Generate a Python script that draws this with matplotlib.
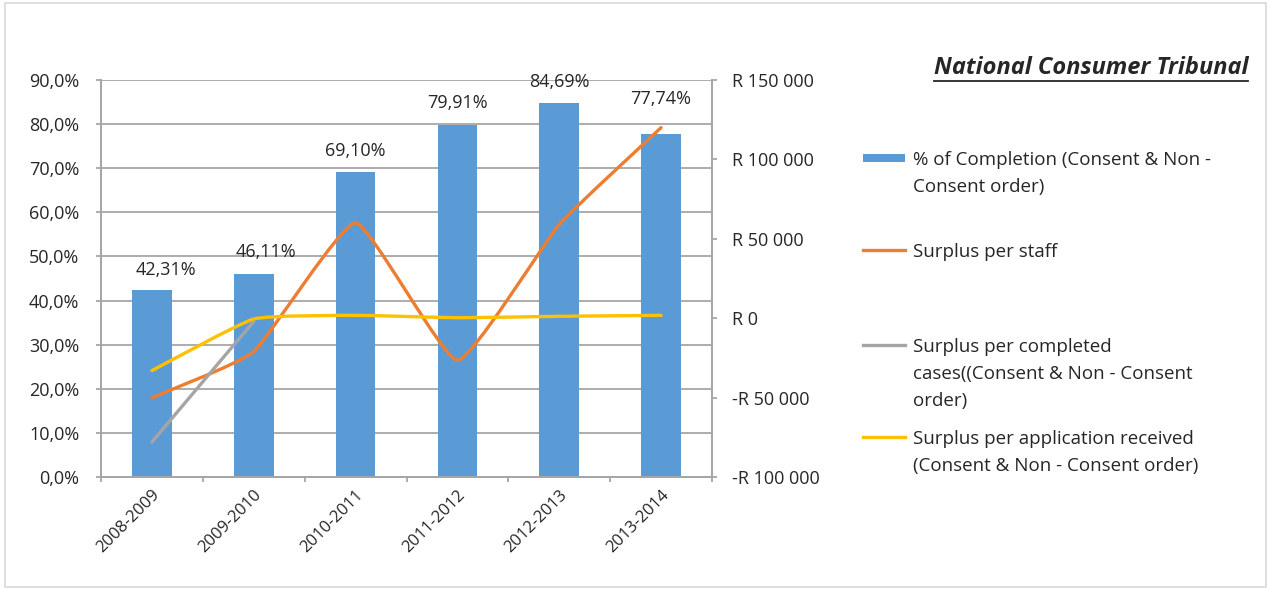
import numpy as np
import matplotlib
matplotlib.use("Agg")
import matplotlib.pyplot as plt
from matplotlib.path import Path
from matplotlib.patches import PathPatch, Rectangle
from matplotlib.lines import Line2D
from matplotlib.ticker import FuncFormatter, MultipleLocator

plt.rcParams['font.family'] = ['Open Sans', 'DejaVu Sans']

categories = ["2008-2009", "2009-2010", "2010-2011", "2011-2012", "2012-2013", "2013-2014"]
completion_pct = [42.31, 46.11, 69.10, 79.91, 84.69, 77.74]
surplus_per_staff = [-50000, -21000, 60000, -26500, 59000, 120000]
surplus_per_completed = [-78000, -2000, np.nan, np.nan, np.nan, np.nan]
surplus_per_application = [-33000, -500, 1800, 300, 1200, 1800]

series_labels = [
    "% of Completion (Consent & Non -\nConsent order)",
    "Surplus per staff",
    "Surplus per completed\ncases((Consent & Non - Consent\norder)",
    "Surplus per application received\n(Consent & Non - Consent order)",
]
title = "National Consumer Tribunal"

BLUE = "#5B9BD5"
ORANGE = "#ED7D31"
GRAY = "#A5A5A5"
YELLOW = "#FFC000"
GRID = "#A6A6A6"
TXT = "#262626"

W, H = 1271, 590
fig = plt.figure(figsize=(W / 100, H / 100), dpi=100)

def fx(px):
    return px / W

def fy(py):
    return 1 - py / H

ax = fig.add_axes([fx(101), fy(477), fx(712) - fx(101), fy(80) - fy(477)])
ax2 = ax.twinx()

x = np.arange(len(categories))
ax.bar(x, [v / 100 for v in completion_pct], width=0.39, color=BLUE, zorder=2)
ax.set_xlim(-0.5, len(categories) - 0.5)
ax.set_ylim(0, 0.9)
ax.yaxis.set_major_locator(MultipleLocator(0.1))
ax.yaxis.set_major_formatter(FuncFormatter(lambda v, p: f"{v*100:.1f}%".replace(".", ",")))
ax.set_axisbelow(True)
ax.grid(axis="y", color=GRID, linewidth=1.3)
ax.set_xticks(np.arange(-0.5, len(categories)), minor=False)
ax.set_xticklabels([])
ax.set_xticks(x, minor=True)
ax.set_xticklabels(categories, minor=True, rotation=45, ha="right", rotation_mode="anchor",
                   fontsize=12, color=TXT)
ax.tick_params(axis="x", which="minor", length=0, pad=7)
ax.tick_params(axis="x", which="major", length=3.6, color=GRID, width=1.3)
ax.tick_params(axis="y", length=3.6, color=GRID, width=1.3, labelsize=13, labelcolor=TXT, pad=12)

ax.spines["top"].set_visible(False)
ax2.spines["top"].set_visible(False)
for s in ["left", "bottom", "right"]:
    ax.spines[s].set_color(GRID)
    ax.spines[s].set_linewidth(1.3)
    ax2.spines[s].set_color(GRID)
    ax2.spines[s].set_linewidth(1.3)

label_offsets = [(10, 8), (9, 9), (0, 9), (0, 9), (0, 9), (0, 19)]
for xi, v, off in zip(x, completion_pct, label_offsets):
    ax.annotate(f"{v:.2f}%".replace(".", ","), (xi, v / 100), xytext=off,
                textcoords="offset points", ha="center", va="bottom", fontsize=13, color=TXT)

ax2.set_ylim(-100000, 150000)
ax2.yaxis.set_major_locator(MultipleLocator(50000))

def rfmt(v, p):
    s = f"{abs(int(round(v))):,}".replace(",", " ")
    return ("-R " if v < 0 else "R ") + s

ax2.yaxis.set_major_formatter(FuncFormatter(rfmt))
ax2.tick_params(axis="y", length=3.6, color=GRID, width=1.3, labelsize=13, labelcolor=TXT, pad=11)


def smooth_path(xs, ys, k=0.07):
    pts = [(a, b) for a, b in zip(xs, ys) if not np.isnan(b)]
    pts = np.array(pts, dtype=float)
    verts = [tuple(pts[0])]
    codes = [Path.MOVETO]
    n = len(pts)
    for i in range(n - 1):
        p0 = pts[i - 1] if i > 0 else pts[i]
        p1 = pts[i]
        p2 = pts[i + 1]
        p3 = pts[i + 2] if i + 2 < n else pts[i + 1]
        c1 = p1 + (p2 - p0) * k
        c2 = p2 - (p3 - p1) * k
        verts += [tuple(c1), tuple(c2), tuple(p2)]
        codes += [Path.CURVE4] * 3
    return Path(verts, codes)


for ys, col in [(surplus_per_staff, ORANGE), (surplus_per_completed, GRAY), (surplus_per_application, YELLOW)]:
    patch = PathPatch(smooth_path(x, ys), facecolor="none", edgecolor=col, linewidth=2.4,
                      capstyle="round", joinstyle="round", zorder=3)
    ax2.add_patch(patch)

# Legend (manual layout)
leg_x0, leg_x1, txt_x = 863, 905, 913
leg_rows = [158, 250, 345, 437]
line_step = 26.8
handles = ["bar", ORANGE, GRAY, YELLOW]
for lab, yy, h in zip(series_labels, leg_rows, handles):
    if h == "bar":
        fig.patches.append(Rectangle((fx(leg_x0), fy(yy + 4)), fx(leg_x1) - fx(leg_x0), fy(yy - 4) - fy(yy + 4),
                                     transform=fig.transFigure, facecolor=BLUE, edgecolor="none"))
    else:
        fig.add_artist(Line2D([fx(leg_x0), fx(leg_x1)], [fy(yy), fy(yy)], color=h, linewidth=2.4,
                              transform=fig.transFigure))
    for i, line in enumerate(lab.split("\n")):
        fig.text(fx(txt_x), fy(yy + i * line_step), line, ha="left", va="center_baseline",
                 fontsize=13.5, color=TXT)

# Title with underline
t = fig.text(fx(1248), fy(68), title, ha="right", va="center", fontsize=17,
             fontweight="bold", fontstyle="italic", color=TXT)
fig.canvas.draw()
bb = t.get_window_extent(renderer=fig.canvas.get_renderer())
fig.add_artist(Line2D([bb.x0 / W, bb.x1 / W], [fy(81), fy(81)], color=TXT, linewidth=1.3,
                      transform=fig.transFigure))

# outer border
fig.patches.append(Rectangle((fx(5), fy(587)), fx(1266) - fx(5), fy(3) - fy(587),
                             transform=fig.transFigure, facecolor="none", edgecolor="#D9D9D9",
                             linewidth=1.2))

fig.savefig("out.png", dpi=100)
